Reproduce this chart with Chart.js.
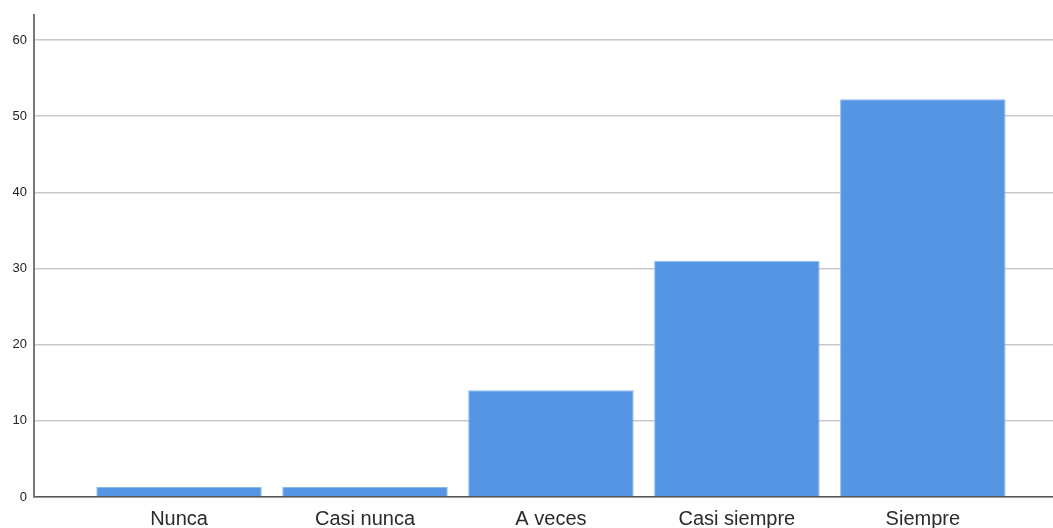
<!DOCTYPE html>
<html>
<head>
<meta charset="utf-8">
<script src="https://cdn.jsdelivr.net/npm/chart.js@4"></script>
<style>
  html, body { margin: 0; padding: 0; background: #fff; }
  #wrap { width: 1053px; height: 528px; }
</style>
</head>
<body>
<div id="wrap"><canvas id="myChart1" width="1053" height="528"></canvas></div>
<script>
const categorias = ["Nunca", "Casi nunca", "A veces", "Casi siempre", "Siempre"];
const valores = [1.3, 1.3, 14.0, 31.0, 52.2];
const ticksY = [0, 10, 20, 30, 40, 50, 60];

const ctx = document.getElementById("myChart1").getContext("2d");

const data = {
  datasets: [
    {
      label: "Porcentaje",
      data: categorias.map((c, i) => ({ x: i, y: valores[i] })),
      backgroundColor: "rgb(85, 150, 228)",
      borderColor: "rgba(140, 185, 240, 1)",
      borderWidth: 1,
      categoryPercentage: 1,
      barPercentage: 0.89,
    },
  ],
};

const config = {
  type: "bar",
  data: data,
  options: {
    responsive: false,
    animation: false,
    layout: { padding: { top: 14, right: 0, left: 0, bottom: 0 } },
    scales: {
      x: {
        type: "linear",
        offset: false, // sin relleno extra a los lados
        min: -0.78,
        max: 4.7,
        afterBuildTicks: (axis) => {
          axis.ticks = categorias.map((c, i) => ({ value: i }));
        },
        afterFit: (axis) => { axis.height = 31; },
        grid: { display: false, drawTicks: false },
        border: { display: true, color: "#555", width: 1.5 },
        ticks: {
          color: "#2a2a2a",
          font: { family: "Liberation Sans", size: 20 },
          padding: 10,
          autoSkip: false,
          maxRotation: 0,
          callback: (v) => categorias[v] || "",
        },
      },
      y: {
        min: 0,
        max: 63.3,
        afterBuildTicks: (axis) => {
          axis.ticks = ticksY.map((v) => ({ value: v }));
        },
        afterFit: (axis) => { axis.width = 34; },
        grid: { color: "#c8c8c8", lineWidth: 1.5, drawTicks: false },
        border: { display: true, color: "#777", width: 2 },
        ticks: {
          color: "#222",
          font: { family: "Liberation Sans", size: 13 },
          padding: 7,
        },
      },
    },
    plugins: {
      legend: { display: false },
      tooltip: { enabled: false },
    },
  },
};

const myChart = new Chart(ctx, config);
</script>
</body>
</html>
